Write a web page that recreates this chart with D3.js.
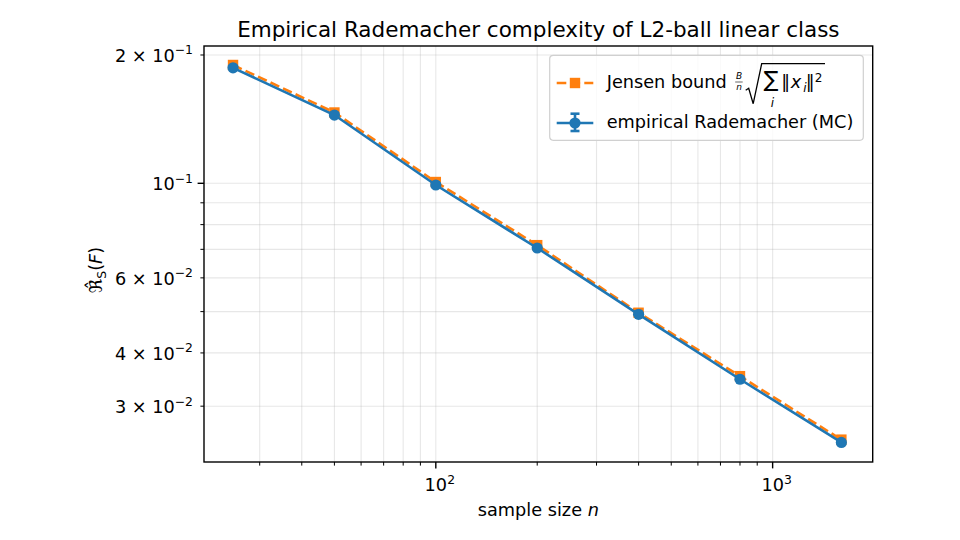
<!DOCTYPE html>
<html><head><meta charset="utf-8">
<script src="https://cdn.jsdelivr.net/npm/d3@7"></script>
<style>
body{margin:0;background:#fff;}
svg{font-family:"DejaVu Sans",sans-serif;}
</style></head>
<body><svg id="c" width="960" height="540"></svg>
<script>
// ---- data ----
const sampleSizes = [25, 50, 100, 200, 400, 800, 1600];
const jensenBound = [0.1895, 0.1466, 0.1007, 0.0716, 0.0497, 0.03528, 0.02504];
const empiricalRad = [0.1866, 0.1446, 0.0991, 0.0705, 0.04928, 0.0347, 0.02466];
const empiricalErr = [0.0015, 0.0010, 0.0007, 0.0005, 0.00035, 0.00025, 0.00018];
const xMajorTicks = [100, 1000];
const xTickLabels = [["10","2"],["10","3"]];
const yLabelTicks = [0.2, 0.1, 0.06, 0.04, 0.03];
const yTickLabels = [["2 × 10","−1"],["10","−1"],["6 × 10","−2"],["4 × 10","−2"],["3 × 10","−2"]];

const svg = d3.select("#c");
const L=204, R=872.7, T=46, B=462;
const x = d3.scaleLog().domain([20.5, 1982]).range([L, R]);
const y = d3.scaleLog().domain([0.02219, 0.20996]).range([B, T]);
const blue="#1f77b4", orange="#ff7f0e";
const FS=17.7, SUP=12.4, LW=2.6, DASH="9.6,4.2";

// minor tick values
const xMinor=[], yMinor=[];
[10,100,1000].forEach(d=>{for(let k=2;k<=9;k++){const v=d*k; if(v>=x.domain()[0]&&v<=x.domain()[1]) xMinor.push(v);}});
[0.01,0.1].forEach(d=>{for(let k=2;k<=9;k++){const v=+(d*k).toFixed(4); if(v>=y.domain()[0]&&v<=y.domain()[1]) yMinor.push(v);}});
const yMajor=[0.1];

// grid
const g = svg.append("g");
g.selectAll(".gx").data(xMinor.concat(xMajorTicks)).enter().append("line")
 .attr("x1",d=>x(d)).attr("x2",d=>x(d)).attr("y1",T).attr("y2",B)
 .attr("stroke","#b0b0b0").attr("stroke-opacity",0.3).attr("stroke-width",1.1);
g.selectAll(".gy").data(yMinor.concat(yMajor)).enter().append("line")
 .attr("y1",d=>y(d)).attr("y2",d=>y(d)).attr("x1",L).attr("x2",R)
 .attr("stroke","#b0b0b0").attr("stroke-opacity",0.3).attr("stroke-width",1.1);

// ticks
svg.selectAll(".tx").data(xMinor).enter().append("line")
 .attr("x1",d=>x(d)).attr("x2",d=>x(d)).attr("y1",B).attr("y2",B+3.6).attr("stroke","#000").attr("stroke-width",1);
svg.selectAll(".txm").data(xMajorTicks).enter().append("line")
 .attr("x1",d=>x(d)).attr("x2",d=>x(d)).attr("y1",B).attr("y2",B+6.4).attr("stroke","#000").attr("stroke-width",1.4);
svg.selectAll(".ty").data(yMinor).enter().append("line")
 .attr("y1",d=>y(d)).attr("y2",d=>y(d)).attr("x1",L).attr("x2",L-3.6).attr("stroke","#000").attr("stroke-width",1);
svg.selectAll(".tym").data(yMajor).enter().append("line")
 .attr("y1",d=>y(d)).attr("y2",d=>y(d)).attr("x1",L).attr("x2",L-6.4).attr("stroke","#000").attr("stroke-width",1.4);

// tick labels
const xl = svg.selectAll(".xl").data(xMajorTicks).enter().append("text")
 .attr("x",d=>x(d)+4).attr("y",B+29).attr("text-anchor","middle").attr("font-size",FS);
xl.each(function(d,i){const t=d3.select(this);
  t.append("tspan").text(xTickLabels[i][0]);
  t.append("tspan").attr("dy",-7.5).attr("font-size",SUP).text(xTickLabels[i][1]);});
const yl = svg.selectAll(".yl").data(yLabelTicks).enter().append("text")
 .attr("x",L-11).attr("y",d=>y(d)+7).attr("text-anchor","end").attr("font-size",FS);
yl.each(function(d,i){const t=d3.select(this);
  t.append("tspan").text(yTickLabels[i][0]);
  t.append("tspan").attr("dy",-7.5).attr("font-size",SUP).text(yTickLabels[i][1]);});

// data lines
const pts = (arr)=>sampleSizes.map((n,i)=>[x(n),y(arr[i])]);
svg.append("path").attr("d",d3.line()(pts(jensenBound))).attr("fill","none")
 .attr("stroke",orange).attr("stroke-width",LW).attr("stroke-dasharray",DASH);
svg.selectAll(".sq").data(sampleSizes).enter().append("rect")
 .attr("x",(d,i)=>x(d)-5.2).attr("y",(d,i)=>y(jensenBound[i])-5.2).attr("width",10.4).attr("height",10.4).attr("fill",orange);
svg.append("path").attr("d",d3.line()(pts(empiricalRad))).attr("fill","none")
 .attr("stroke",blue).attr("stroke-width",LW);
svg.selectAll(".eb").data(sampleSizes).enter().append("line")
 .attr("x1",d=>x(d)).attr("x2",d=>x(d))
 .attr("y1",(d,i)=>y(empiricalRad[i]-empiricalErr[i])).attr("y2",(d,i)=>y(empiricalRad[i]+empiricalErr[i]))
 .attr("stroke",blue).attr("stroke-width",LW);
svg.selectAll(".ci").data(sampleSizes).enter().append("circle")
 .attr("cx",d=>x(d)).attr("cy",(d,i)=>y(empiricalRad[i])).attr("r",5.6).attr("fill",blue);

// spines
svg.append("rect").attr("x",L).attr("y",T).attr("width",R-L).attr("height",B-T)
 .attr("fill","none").attr("stroke","#000").attr("stroke-width",1.4);

// title & labels
svg.append("text").attr("x",(L+R)/2).attr("y",37).attr("text-anchor","middle").attr("font-size",21.5)
 .text("Empirical Rademacher complexity of L2-ball linear class");
const xlab = svg.append("text").attr("x",(L+R)/2).attr("y",516).attr("text-anchor","middle").attr("font-size",FS);
xlab.append("tspan").text("sample size ");
xlab.append("tspan").attr("font-style","italic").text("n");
const ylab = svg.append("text").attr("transform","translate(102,270) rotate(-90)").attr("text-anchor","middle").attr("font-size",FS);
ylab.append("tspan").text("ℜ̂");
ylab.append("tspan").attr("dy",4).attr("font-size",SUP).text("S");
ylab.append("tspan").attr("dy",-4).text("(");
ylab.append("tspan").attr("font-style","italic").text("F");
ylab.append("tspan").text(")");

// legend
const lg = svg.append("g").attr("transform","translate(549.7,55.3)");
lg.append("rect").attr("width",313.6).attr("height",85).attr("rx",3.5).attr("fill","#fff").attr("fill-opacity",0.8)
 .attr("stroke","#d0d0d0").attr("stroke-width",1.2);
// entry 1
lg.append("line").attr("x1",7).attr("x2",43.6).attr("y1",27.7).attr("y2",27.7)
 .attr("stroke",orange).attr("stroke-width",LW).attr("stroke-dasharray",DASH);
lg.append("rect").attr("x",25.3-5.2).attr("y",27.7-5.2).attr("width",10.4).attr("height",10.4).attr("fill",orange);
lg.append("text").attr("x",57).attr("y",33).attr("font-size",FS).text("Jensen bound");
lg.append("text").attr("x",189.3).attr("y",24).attr("font-size",9).attr("font-style","italic").attr("text-anchor","middle").text("B");
lg.append("line").attr("x1",185.5).attr("x2",193).attr("y1",26.7).attr("y2",26.7).attr("stroke","#000").attr("stroke-width",0.6);
lg.append("text").attr("x",189.3).attr("y",35.2).attr("font-size",9).attr("font-style","italic").attr("text-anchor","middle").text("n");
lg.append("path").attr("d","M196,35 L199,33 L203.5,48.4 L212,8.4 L275.3,8.4").attr("fill","none").attr("stroke","#000").attr("stroke-width",1.3);
lg.append("text").attr("x",214).attr("y",32).attr("font-size",22).text("∑");
lg.append("text").attr("x",221).attr("y",52).attr("font-size",12).attr("font-style","italic").text("i");
lg.append("text").attr("x",231.5).attr("y",33).attr("font-size",FS).text("‖");
lg.append("text").attr("x",241).attr("y",33).attr("font-size",FS).attr("font-style","italic").text("x");
lg.append("text").attr("x",253.5).attr("y",37).attr("font-size",12).attr("font-style","italic").text("i");
lg.append("text").attr("x",256).attr("y",33).attr("font-size",FS).text("‖");
lg.append("text").attr("x",265).attr("y",26.5).attr("font-size",12).text("2");
// entry 2
lg.append("line").attr("x1",7).attr("x2",43.6).attr("y1",67.7).attr("y2",67.7).attr("stroke",blue).attr("stroke-width",LW);
lg.append("line").attr("x1",25.3).attr("x2",25.3).attr("y1",58.4).attr("y2",75.7).attr("stroke",blue).attr("stroke-width",LW);
lg.append("line").attr("x1",20.8).attr("x2",29.8).attr("y1",58.4).attr("y2",58.4).attr("stroke",blue).attr("stroke-width",LW);
lg.append("line").attr("x1",20.8).attr("x2",29.8).attr("y1",75.7).attr("y2",75.7).attr("stroke",blue).attr("stroke-width",LW);
lg.append("circle").attr("cx",25.3).attr("cy",67.7).attr("r",5.6).attr("fill",blue);
lg.append("text").attr("x",57).attr("y",73).attr("font-size",FS).text("empirical Rademacher (MC)");
</script></body></html>
